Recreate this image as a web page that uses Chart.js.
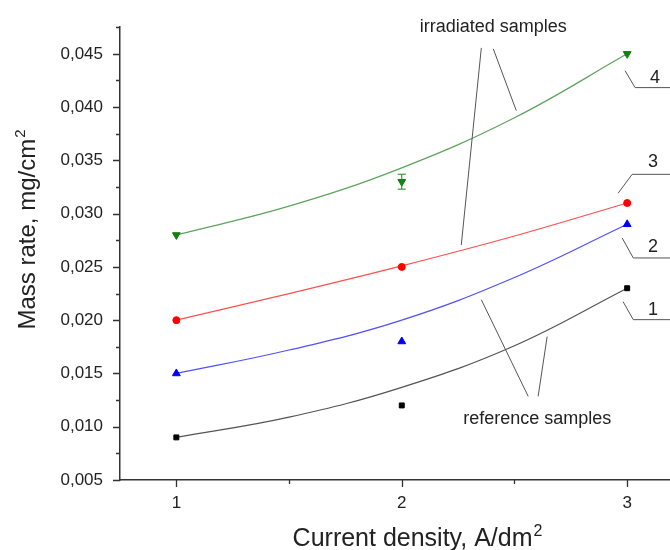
<!DOCTYPE html>
<html>
<head>
<meta charset="utf-8">
<script src="https://cdn.jsdelivr.net/npm/chart.js@4.4.1/dist/chart.umd.min.js"></script>
<style>
    html, body { margin: 0; padding: 0; background: #fff; }
    #wrap { width: 670px; height: 550px; }
</style>
</head>
<body>
<div id="wrap"><canvas id="myChart" width="670" height="550"></canvas></div>
<script>
// Measured points: current density vs mass rate
const currentDensity = [1, 2, 3];
const massRef1 = [0.009, 0.012, 0.023];   // 1 - reference
const massRef2 = [0.015, 0.018, 0.029];   // 2 - reference
const massIrr3 = [0.020, 0.025, 0.031];   // 3 - irradiated
const massIrr4 = [0.028, 0.033, 0.045];   // 4 - irradiated
const errIrr4 = [0, 0.0007, 0];

// Fitted curves, read at a few points
const fitX = [1, 1.5, 2, 2.5, 3];
const fit1 = [0.009, 0.0109, 0.0137, 0.0176, 0.023];
const fit2 = [0.015, 0.0172, 0.0200, 0.0240, 0.029];
const fit3 = [0.020, 0.0225, 0.0251, 0.0279, 0.031];
const fit4 = [0.028, 0.0307, 0.0343, 0.0390, 0.045];

// Axis ticks (every other one gets a label)
const xTickValues = [1, 1.5, 2, 2.5, 3];
const yTickValues = [0.005, 0.0075, 0.01, 0.0125, 0.015, 0.0175, 0.02, 0.0225, 0.025,
    0.0275, 0.03, 0.0325, 0.035, 0.0375, 0.04, 0.0425, 0.045, 0.0475];

const xTitle = ['Current density, A/dm', '2'];
const yTitle = ['Mass rate, mg/cm', '2'];

const toPoints = (xs, ys) => xs.map((x, i) => ({ x: x, y: ys[i] }));

// Leader lines and notes, in data units
const leaders = [
    [[2.353, 0.04556], [2.264, 0.02706]],
    [[2.406, 0.04547], [2.508, 0.03967]],
    [[2.353, 0.02192], [2.561, 0.01285]],
    [[2.645, 0.01846], [2.605, 0.01285]],
    [[2.991, 0.04341], [3.035, 0.04183], [3.3, 0.04183]],
    [[2.960, 0.03192], [3.022, 0.03369], [3.3, 0.03369]],
    [[2.978, 0.02771], [3.027, 0.02584], [3.3, 0.02584]],
    [[2.982, 0.02173], [3.027, 0.02005], [3.3, 0.02005]]
];
const notes = [
    { text: 'irradiated samples', x: 2.406, y: 0.04752, size: 18 },
    { text: 'reference samples', x: 2.601, y: 0.0107, size: 18 },
    { text: '4', x: 3.124, y: 0.04276, size: 18 },
    { text: '3', x: 3.115, y: 0.03481, size: 18 },
    { text: '2', x: 3.115, y: 0.02687, size: 18 },
    { text: '1', x: 3.115, y: 0.02098, size: 18 }
];

const FONT = "'Liberation Sans', Arial, sans-serif";

// Outward tick marks, long for labelled ticks and short for the rest
const tickMarks = {
    id: 'tickMarks',
    afterDraw(chart) {
        const { ctx, chartArea, scales } = chart;
        ctx.save();
        ctx.strokeStyle = '#333';
        ctx.lineWidth = 1.3;
        ctx.beginPath();
        scales.x.ticks.forEach(t => {
            const px = Math.round(scales.x.getPixelForValue(t.value)) + 0.5;
            const len = Number.isInteger(t.value) ? 7 : 4;
            ctx.moveTo(px, chartArea.bottom);
            ctx.lineTo(px, chartArea.bottom + len);
        });
        scales.y.ticks.forEach((t, i) => {
            const py = Math.round(scales.y.getPixelForValue(t.value)) + 0.5;
            const len = i % 2 === 0 ? 7 : 4;
            ctx.moveTo(chartArea.left, py);
            ctx.lineTo(chartArea.left - len, py);
        });
        ctx.stroke();
        ctx.restore();
    }
};

// Error bar on the middle point of curve 4
const errorBars = {
    id: 'errorBars',
    afterDatasetsDraw(chart) {
        const { ctx, scales } = chart;
        ctx.save();
        ctx.strokeStyle = '#1a8a1a';
        ctx.lineWidth = 1;
        currentDensity.forEach((x, i) => {
            if (!errIrr4[i]) return;
            const px = scales.x.getPixelForValue(x);
            const top = scales.y.getPixelForValue(massIrr4[i] + errIrr4[i]);
            const bot = scales.y.getPixelForValue(massIrr4[i] - errIrr4[i]);
            ctx.beginPath();
            ctx.moveTo(px, top); ctx.lineTo(px, bot);
            ctx.moveTo(px - 4, top); ctx.lineTo(px + 4, top);
            ctx.moveTo(px - 4, bot); ctx.lineTo(px + 4, bot);
            ctx.stroke();
        });
        ctx.restore();
    }
};

// Axis titles with a raised, smaller exponent
function drawSupTitle(ctx, parts, size) {
    const supSize = Math.round(size * 0.62);
    ctx.font = size + 'px ' + FONT;
    const w1 = ctx.measureText(parts[0]).width;
    ctx.font = supSize + 'px ' + FONT;
    const w2 = ctx.measureText(parts[1]).width;
    const start = -(w1 + w2) / 2;
    ctx.textAlign = 'left';
    ctx.textBaseline = 'alphabetic';
    ctx.font = size + 'px ' + FONT;
    ctx.fillText(parts[0], start, size * 0.36);
    ctx.font = supSize + 'px ' + FONT;
    ctx.fillText(parts[1], start + w1 + 1, size * 0.36 - size * 0.42);
}

const axisTitles = {
    id: 'axisTitles',
    afterDraw(chart) {
        const { ctx } = chart;
        ctx.save();
        ctx.fillStyle = '#222';
        ctx.translate(417, 537);
        drawSupTitle(ctx, xTitle, 25);
        ctx.restore();
        ctx.save();
        ctx.fillStyle = '#222';
        ctx.translate(26, 230);
        ctx.rotate(-Math.PI / 2);
        drawSupTitle(ctx, yTitle, 24);
        ctx.restore();
    }
};

// Callout lines and labels
const callouts = {
    id: 'callouts',
    afterDraw(chart) {
        const { ctx, scales } = chart;
        const X = v => scales.x.getPixelForValue(v);
        const Y = v => scales.y.getPixelForValue(v);
        ctx.save();
        ctx.strokeStyle = '#555';
        ctx.lineWidth = 1;
        leaders.forEach(pts => {
            ctx.beginPath();
            pts.forEach((p, i) => i ? ctx.lineTo(X(p[0]), Y(p[1])) : ctx.moveTo(X(p[0]), Y(p[1])));
            ctx.stroke();
        });
        ctx.fillStyle = '#222';
        ctx.textAlign = 'center';
        ctx.textBaseline = 'middle';
        notes.forEach(n => {
            ctx.font = n.size + 'px ' + FONT;
            ctx.fillText(n.text, X(n.x), Y(n.y));
        });
        ctx.restore();
    }
};

const ctx = document.getElementById('myChart').getContext('2d');
const myChart = new Chart(ctx, {
    type: 'scatter',
    data: {
        datasets: [
            { label: '1', data: toPoints(currentDensity, massRef1), pointStyle: 'rect', pointRadius: 3.5,
              backgroundColor: '#000', borderColor: '#000', showLine: false },
            { label: '2', data: toPoints(currentDensity, massRef2), pointStyle: 'triangle', pointRadius: 4.5,
              backgroundColor: '#0000ff', borderColor: '#0000ff', showLine: false },
            { label: '3', data: toPoints(currentDensity, massIrr3), pointStyle: 'circle', pointRadius: 3.5,
              backgroundColor: '#ff0000', borderColor: '#ff0000', showLine: false },
            { label: '4', data: toPoints(currentDensity, massIrr4), pointStyle: 'triangle', rotation: 180, pointRadius: 4.5,
              backgroundColor: '#108010', borderColor: '#108010', showLine: false },
            { type: 'line', data: toPoints(fitX, fit1), borderColor: '#555', borderWidth: 1.2,
              pointRadius: 0, tension: 0.4 },
            { type: 'line', data: toPoints(fitX, fit2), borderColor: '#5050ff', borderWidth: 1.2,
              pointRadius: 0, tension: 0.4 },
            { type: 'line', data: toPoints(fitX, fit3), borderColor: '#ff5050', borderWidth: 1.2,
              pointRadius: 0, tension: 0.4 },
            { type: 'line', data: toPoints(fitX, fit4), borderColor: '#5fa35f', borderWidth: 1.2,
              pointRadius: 0, tension: 0.4 }
        ]
    },
    options: {
        responsive: false,
        animation: false,
        events: [],
        layout: { autoPadding: false, padding: { top: 26, right: 0, left: 0, bottom: 0 } },
        plugins: {
            legend: { display: false },
            tooltip: { enabled: false }
        },
        scales: {
            x: {
                type: 'linear',
                min: 0.75,
                max: 3.19,
                afterBuildTicks: s => { s.ticks = xTickValues.map(v => ({ value: v })); },
                afterFit: s => { s.height = 70; },
                grid: { display: true, drawOnChartArea: false, drawTicks: false },
                border: { color: '#333', width: 1.5 },
                ticks: {
                    padding: 13,
                    color: '#222',
                    font: { family: FONT, size: 17 },
                    maxRotation: 0,
                    callback: v => Number.isInteger(v) ? String(v) : ''
                }
            },
            y: {
                type: 'linear',
                min: 0.005,
                max: 0.0475,
                afterBuildTicks: s => { s.ticks = yTickValues.map(v => ({ value: v })); },
                afterFit: s => { s.width = 120; },
                grid: { display: true, drawOnChartArea: false, drawTicks: false },
                border: { color: '#333', width: 1.5 },
                ticks: {
                    padding: 17,
                    color: '#222',
                    font: { family: FONT, size: 17 },
                    callback: (v, i) => i % 2 === 0 ? v.toFixed(3).replace('.', ',') : ''
                }
            }
        }
    },
    plugins: [tickMarks, errorBars, axisTitles, callouts]
});
</script>
</body>
</html>
